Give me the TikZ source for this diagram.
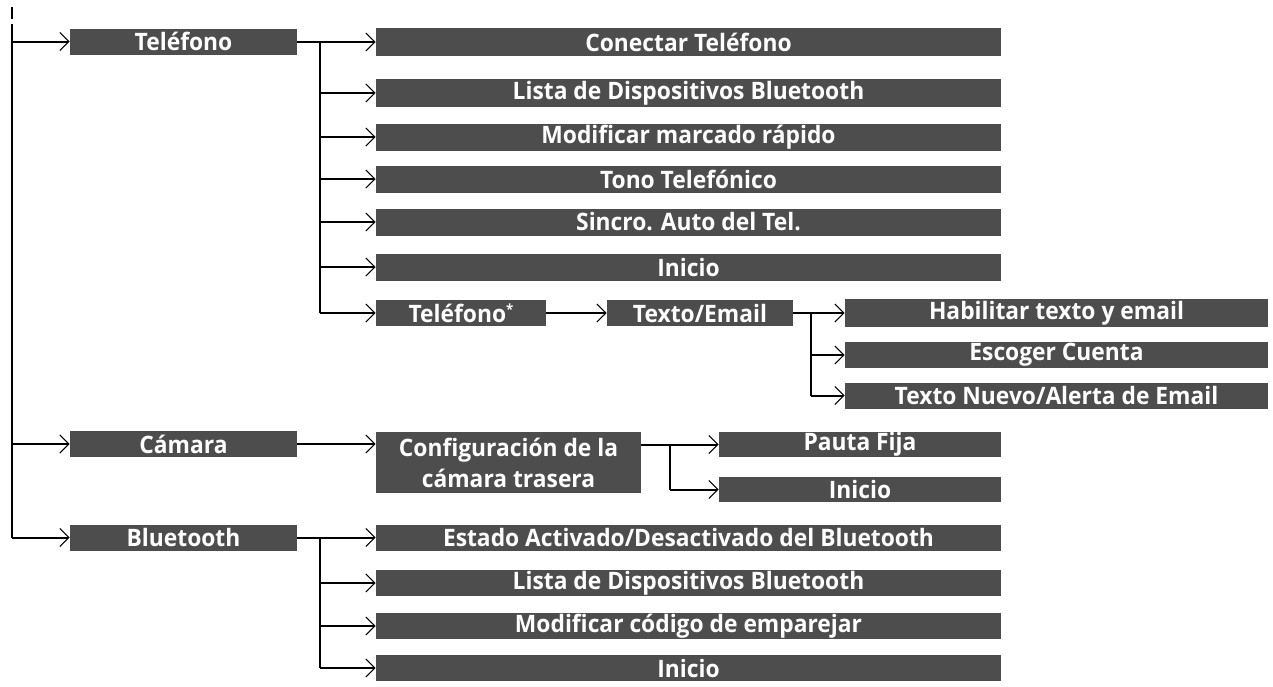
\documentclass[tikz,border=0pt]{standalone}
\usepackage{fontspec}
\setmainfont{Open Sans}[FakeStretch=0.95]
\usetikzlibrary{arrows.meta}
\definecolor{boxgray}{HTML}{4D4D4D}
\tikzset{
  menubox/.style={fill=boxgray, text=white, inner sep=0pt, anchor=center,
    font=\fontsize{12pt}{14pt}\selectfont\bfseries},
  conn/.style={line width=1pt, -{Straight Barb[length=4.5pt,width=9pt,line width=0.55pt]}},
  plain/.style={line width=1pt},
}
\begin{document}
\begin{tikzpicture}[x=0.5pt,y=-0.5pt]
\useasboundingbox (0,0) rectangle (1273,686);
% level 1
\node[menubox, minimum width=113.5pt, minimum height=13pt] (tel) at (183.5,41.5) {Teléfono};
\node[menubox, minimum width=113.5pt, minimum height=13pt] (cam) at (183.5,444) {Cámara};
\node[menubox, minimum width=113.5pt, minimum height=13pt] (bt) at (183.5,537.5) {Bluetooth};
% telefono children
\node[menubox, minimum width=312.5pt, minimum height=14pt] (conect) at (688.5,42) {Conectar Teléfono};
\node[menubox, minimum width=312.5pt, minimum height=14pt] (lista) at (688.5,93) {Lista de Dispositivos Bluetooth};
\node[menubox, minimum width=312.5pt, minimum height=13.5pt] (marc) at (688.5,137) {Modificar marcado rápido};
\node[menubox, minimum width=312.5pt, minimum height=13.5pt] (tono) at (688.5,179) {Tono Telefónico};
\node[menubox, minimum width=312.5pt, minimum height=13.5pt] (sincro) at (688.5,222) {Sincro. Auto del Tel.};
\node[menubox, minimum width=312.5pt, minimum height=13.5pt] (inicio) at (688.5,267) {Inicio};
\node[menubox, minimum width=85pt, minimum height=13pt] (telstar) at (461,313) {Teléfono\raisebox{0.6ex}{\fontsize{7pt}{7pt}\selectfont *}};
\node[menubox, minimum width=93pt, minimum height=13pt] (texto) at (700,313) {Texto/Email};
\node[menubox, minimum width=211.5pt, minimum height=14pt] (habil) at (1056.5,313) {Habilitar texto y email};
\node[menubox, minimum width=211.5pt, minimum height=13pt] (escoger) at (1056.5,355) {Escoger Cuenta};
\node[menubox, minimum width=211.5pt, minimum height=13pt] (nuevo) at (1056.5,395.5) {Texto Nuevo/Alerta de Email};
% camara children
\node[menubox, minimum width=132.5pt, minimum height=30.5pt, align=center,
  font=\fontsize{12pt}{15.5pt}\selectfont\bfseries] (config) at (508.5,462.5) {Configuración de la\\cámara trasera};
\node[menubox, minimum width=141pt, minimum height=12.5pt] (pauta) at (860,444.5) {Pauta Fija};
\node[menubox, minimum width=141pt, minimum height=12.5pt] (inicio2) at (860,489.5) {Inicio};
% bluetooth children
\node[menubox, minimum width=312.5pt, minimum height=13pt] (estado) at (688.5,537.5) {Estado Activado/Desactivado del Bluetooth};
\node[menubox, minimum width=312.5pt, minimum height=13pt] (listabt) at (688.5,583) {Lista de Dispositivos Bluetooth};
\node[menubox, minimum width=312.5pt, minimum height=13pt] (codigo) at (688.5,626) {Modificar código de emparejar};
\node[menubox, minimum width=312.5pt, minimum height=13pt] (inicio3) at (688.5,668) {Inicio};
% trunk
\coordinate (tick1) at (12,7);
\coordinate (tick2) at (12,19);
\coordinate (trunk) at (12,24);
\draw[plain] (tick1) -- (tick2);
\draw[plain] (trunk) -- (trunk |- bt);
\draw[conn] (trunk |- tel) -- (tel.west);
\draw[conn] (trunk |- cam) -- (cam.west);
\draw[conn] (trunk |- bt) -- (bt.west);
% telefono branch
\coordinate (tb) at (320,42);
\draw[conn] (tel.east |- conect) -- (conect.west);
\draw[plain] (tb) -- (tb |- telstar);
\foreach \n in {lista,marc,tono,sincro,inicio,telstar}
  \draw[conn] (tb |- \n) -- (\n.west);
\draw[conn] (telstar.east) -- (texto.west);
% texto branch
\coordinate (xb) at (811,313);
\draw[conn] (texto.east) -- (habil.west);
\draw[plain] (xb) -- (xb |- nuevo);
\foreach \n in {escoger,nuevo}
  \draw[conn] (xb |- \n) -- (\n.west);
% camara branch
\draw[conn] (cam.east) -- (cam.east -| config.west);
\coordinate (cb) at (670,444.5);
\draw[conn] (config.east |- pauta) -- (pauta.west);
\draw[plain] (cb) -- (cb |- inicio2);
\draw[conn] (cb |- inicio2) -- (inicio2.west);
% bluetooth branch
\coordinate (bb) at (320,537.5);
\draw[conn] (bt.east) -- (estado.west);
\draw[plain] (bb) -- (bb |- inicio3);
\foreach \n in {listabt,codigo,inicio3}
  \draw[conn] (bb |- \n) -- (\n.west);
\end{tikzpicture}
\end{document}
